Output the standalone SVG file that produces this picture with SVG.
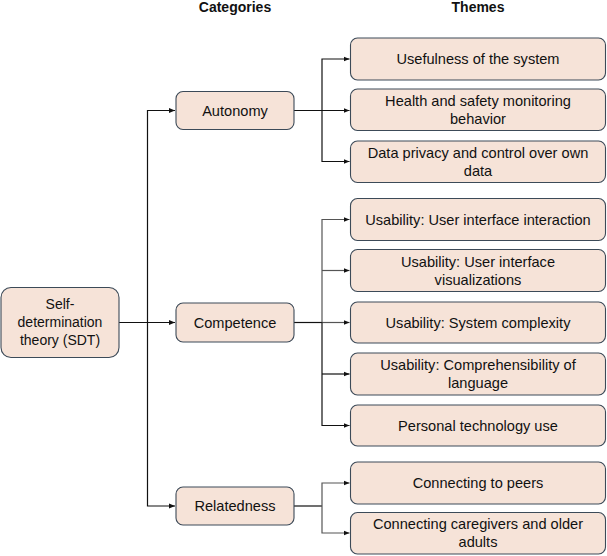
<svg xmlns="http://www.w3.org/2000/svg" width="607" height="556" viewBox="0 0 607 556">
<style>
.box{fill:#f6e3d8;stroke:#3c4a58;stroke-width:1.1}
.t{font-family:"Liberation Sans",Arial,sans-serif;font-size:14px;fill:#111;text-anchor:middle}
.tt{font-family:"Liberation Sans",Arial,sans-serif;font-size:14.6px;fill:#111;text-anchor:middle}
.h{font-family:"Liberation Sans",Arial,sans-serif;font-size:14px;font-weight:bold;fill:#111;text-anchor:middle}
.c{fill:none;stroke:#111;stroke-width:1.2}
.g{fill:none;stroke:#555;stroke-width:1.2}
</style>
<defs>
<marker id="a" viewBox="0 0 10 10" refX="10" refY="5" markerWidth="6" markerHeight="6" markerUnits="userSpaceOnUse" orient="auto">
<path d="M0,1 L10,5 L0,9 z" fill="#111"/>
</marker>
</defs>
<rect width="607" height="556" fill="#fff"/>
<text class="h" x="235" y="12">Categories</text>
<text class="h" x="478" y="12">Themes</text>
<g id="connectors">
<path class="c" d="M119,322.5 H175" marker-end="url(#a)"/>
<path class="c" d="M147.5,322.5 V110.5 H175" marker-end="url(#a)"/>
<path class="c" d="M147.5,322.5 V506 H175" marker-end="url(#a)"/>
<path class="c" d="M294,110.5 H349.5" marker-end="url(#a)"/>
<path class="c" d="M322,110.5 V59 H349.5" marker-end="url(#a)"/>
<path class="c" d="M322,110.5 V161.5 H349.5" marker-end="url(#a)"/>
<path class="c" d="M294,322.5 H322"/>
<path class="g" d="M322,322.5 H349.5" marker-end="url(#a)"/>
<path class="g" d="M322,322.5 V219.5 H349.5" marker-end="url(#a)"/>
<path class="g" d="M322,270.5 H349.5" marker-end="url(#a)"/>
<path class="c" d="M322,322.5 V425.5 H349.5" marker-end="url(#a)"/>
<path class="c" d="M322,374 H349.5" marker-end="url(#a)"/>
<path class="c" d="M294,506 H322"/>
<path class="g" d="M322,506 V483 H349.5" marker-end="url(#a)"/>
<path class="g" d="M322,506 V533 H349.5" marker-end="url(#a)"/>
</g>
<g id="sdt"><rect class="box" x="1" y="287.5" width="118" height="70" rx="10"/>
<text class="t" x="60" y="309">Self-</text><text class="t" x="60" y="327">determination</text><text class="t" x="60" y="345">theory (SDT)</text></g>
<g id="autonomy"><rect class="box" x="176" y="91.5" width="118" height="38" rx="7"/><text class="tt" x="235" y="115.5">Autonomy</text></g>
<g id="competence"><rect class="box" x="176" y="303" width="118" height="39" rx="7"/><text class="tt" x="235" y="327.5">Competence</text></g>
<g id="relatedness"><rect class="box" x="176" y="487" width="118" height="38" rx="7"/><text class="tt" x="235" y="511">Relatedness</text></g>
<g id="theme1"><rect class="box" x="350.5" y="38" width="255" height="42" rx="7"/><text class="tt" x="478" y="64">Usefulness of the system</text></g>
<g id="theme2"><rect class="box" x="350.5" y="89" width="255" height="41.5" rx="7"/><text class="tt" x="478" y="105.5">Health and safety monitoring</text><text class="tt" x="478" y="123.5">behavior</text></g>
<g id="theme3"><rect class="box" x="350.5" y="141" width="255" height="41.5" rx="7"/><text class="tt" x="478" y="157.5">Data privacy and control over own</text><text class="tt" x="478" y="175.5">data</text></g>
<g id="theme4"><rect class="box" x="350.5" y="198.5" width="255" height="42" rx="7"/><text class="tt" x="478" y="224.5">Usability: User interface interaction</text></g>
<g id="theme5"><rect class="box" x="350.5" y="249.5" width="255" height="42" rx="7"/><text class="tt" x="478" y="266.5">Usability: User interface</text><text class="tt" x="478" y="284.5">visualizations</text></g>
<g id="theme6"><rect class="box" x="350.5" y="302" width="255" height="41" rx="7"/><text class="tt" x="478" y="327.5">Usability: System complexity</text></g>
<g id="theme7"><rect class="box" x="350.5" y="353" width="255" height="42" rx="7"/><text class="tt" x="478" y="370">Usability: Comprehensibility of</text><text class="tt" x="478" y="388">language</text></g>
<g id="theme8"><rect class="box" x="350.5" y="405" width="255" height="41" rx="7"/><text class="tt" x="478" y="430.5">Personal technology use</text></g>
<g id="theme9"><rect class="box" x="350.5" y="462" width="255" height="42" rx="7"/><text class="tt" x="478" y="488">Connecting to peers</text></g>
<g id="theme10"><rect class="box" x="350.5" y="512.5" width="255" height="41.5" rx="7"/><text class="tt" x="478" y="529">Connecting caregivers and older</text><text class="tt" x="478" y="547">adults</text></g>
</svg>
